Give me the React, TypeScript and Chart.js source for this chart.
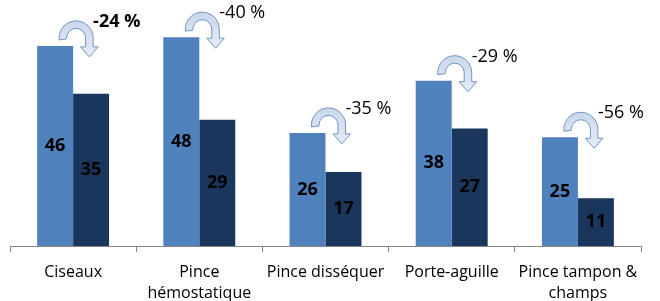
import React, { useEffect, useRef } from "react";
import { Chart, registerables } from "chart.js";

Chart.register(...registerables);

const categories: string[][] = [
  ["Ciseaux"],
  ["Pince", "hémostatique"],
  ["Pince disséquer"],
  ["Porte-aguille"],
  ["Pince tampon &", "champs"],
];
const beforeValues = [46, 48, 26, 38, 25];
const afterValues = [35, 29, 17, 27, 11];
const changeLabels = ["-24 %", "-40 %", "-35 %", "-29 %", "-56 %"];

const FONT = "'Open Sans', 'DejaVu Sans', sans-serif";

const overlayPlugin = {
  id: "overlay",
  afterDatasetsDraw(chart: any) {
    const ctx = chart.ctx as CanvasRenderingContext2D;
    ctx.save();
    // value labels
    ctx.fillStyle = "#000000";
    ctx.font = `bold 18px ${FONT}`;
    ctx.textAlign = "center";
    ctx.textBaseline = "middle";
    [0, 1].forEach((di) => {
      const meta = chart.getDatasetMeta(di);
      const vals = di === 0 ? beforeValues : afterValues;
      meta.data.forEach((el: any, i: number) => {
        ctx.fillText(String(vals[i]), el.x, (el.y + el.base) / 2);
      });
    });
    // arrows and change labels
    const meta0 = chart.getDatasetMeta(0);
    meta0.data.forEach((el: any, i: number) => {
      const xr = el.x + el.width / 2;
      const yt = el.y;
      const cx = xr + 3;
      const cy = yt - 8;
      const R = 17;
      const r = 9.5;
      ctx.beginPath();
      ctx.moveTo(cx - R, cy + 2);
      ctx.arc(cx, cy, R, Math.PI, 0, false);
      ctx.lineTo(cx + R, cy + 9);
      ctx.lineTo(cx + R + 5, cy + 9);
      ctx.lineTo(cx + (R + r) / 2, cy + 19);
      ctx.lineTo(cx + r - 5, cy + 9);
      ctx.lineTo(cx + r, cy + 9);
      ctx.lineTo(cx + r, cy);
      ctx.arc(cx, cy, r, 0, Math.PI, true);
      ctx.lineTo(cx - r, cy + 1);
      ctx.closePath();
      const g = ctx.createLinearGradient(0, cy - R, 0, cy + 19);
      g.addColorStop(0, "#c9d7eb");
      g.addColorStop(1, "#e6edf6");
      ctx.fillStyle = g;
      ctx.fill();
      ctx.strokeStyle = "#7094c4";
      ctx.lineWidth = 1;
      ctx.stroke();

      ctx.fillStyle = "#000000";
      ctx.font = `${i === 0 ? "bold" : "normal"} 18px ${FONT}`;
      ctx.textAlign = "left";
      ctx.textBaseline = "middle";
      ctx.fillText(changeLabels[i], xr + 20, yt - 24);
    });
    ctx.restore();
  },
};

export default function App() {
  const ref = useRef<HTMLCanvasElement | null>(null);
  useEffect(() => {
    if (!ref.current) return;
    const chart = new Chart(ref.current, {
      type: "bar",
      data: {
        labels: categories,
        datasets: [
          {
            data: beforeValues,
            backgroundColor: "#4F81BD",
            borderWidth: 0,
            categoryPercentage: 0.57,
            barPercentage: 1,
          },
          {
            data: afterValues,
            backgroundColor: "#1B365D",
            borderWidth: 0,
            categoryPercentage: 0.57,
            barPercentage: 1,
          },
        ],
      },
      options: {
        animation: false,
        responsive: false,
        maintainAspectRatio: false,
        layout: { padding: { top: 28.5, left: 10, right: 19, bottom: 0 } },
        plugins: { legend: { display: false }, tooltip: { enabled: false } },
        scales: {
          x: {
            grid: {
              drawOnChartArea: false,
              drawTicks: true,
              tickLength: 6,
              color: "#868686",
              offset: true,
            },
            border: { display: true, color: "#868686", width: 1 },
            ticks: {
              color: "#000000",
              padding: 10,
              maxRotation: 0,
              autoSkip: false,
              font: { family: FONT, size: 16, lineHeight: 1.3 },
            },
            afterFit: (s: any) => {
              s.height = 55;
            },
          },
          y: {
            display: false,
            min: 0,
            max: 50,
          },
        },
      },
      plugins: [overlayPlugin],
    });
    return () => chart.destroy();
  }, []);
  return (
    <div style={{ position: "fixed", left: 0, top: 0, width: 660, height: 301, background: "#fff" }}>
      <canvas ref={ref} width={660} height={301} style={{ width: 660, height: 301, display: "block" }} />
    </div>
  );
}
